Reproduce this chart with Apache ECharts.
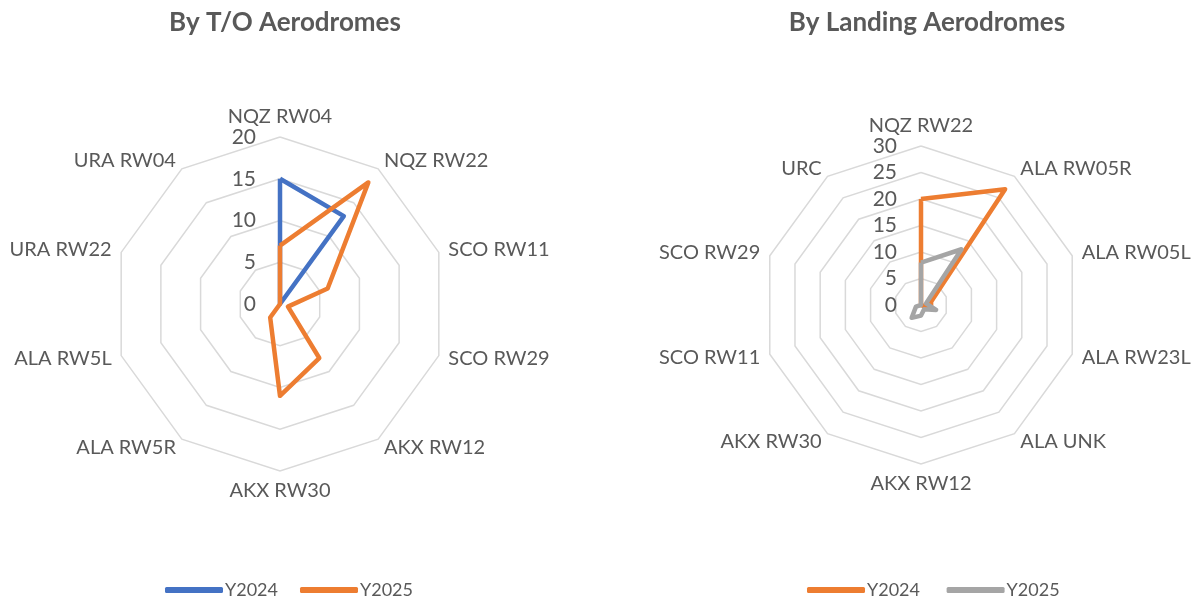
<!DOCTYPE html>
<html><head><meta charset="utf-8">
<script src="https://cdn.jsdelivr.net/npm/echarts@6/dist/echarts.min.js"></script>
<style>html,body{margin:0;padding:0;background:#fff}#c{width:1201px;height:597px}</style>
</head><body><div id="c"></div>
<script>
// Left chart: By T/O Aerodromes (clockwise order from top)
const toCategories = ['NQZ RW04','NQZ RW22','SCO RW11','SCO RW29','AKX RW12','AKX RW30','ALA RW5R','ALA RW5L','URA RW22','URA RW04'];
const toY2024 = [15, 13, 0, 0, 0, 0, 0, 0, 0, 0];
const toY2025 = [7, 18, 6, 1, 8, 11, 2, 0, 0, 0];
const toMax = 20;
// Right chart: By Landing Aerodromes (clockwise order from top)
const ldCategories = ['NQZ RW22','ALA RW05R','ALA RW05L','ALA RW23L','ALA UNK','AKX RW12','AKX RW30','SCO RW11','SCO RW29','URC'];
const ldY2024 = [20, 27, 2, 2, 0, 0, 0, 0, 0, 0];
const ldY2025 = [8, 13, 1, 3, 1, 2, 3, 1, 0, 0];
const ldMax = 30;
const seriesNames = ['Y2024', 'Y2025'];

const FONT = 'Lato';
const TXT = '#595959';
const BLUE = '#4472C4', ORANGE = '#ED7D31', GRAY = '#A5A5A5';

// ECharts radar runs counter-clockwise; reorder so the chart reads clockwise
function cw(arr) { return [arr[0]].concat(arr.slice(1).reverse()); }

function indicators(cats, max) {
  return cw(cats).map((n, i) => {
    const o = { name: n, min: 0, max: max };
    if (i === 0) o.axisLabel = { show: true };
    return o;
  });
}
function radarCfg(center, radius, cats, max, split) {
  return {
    center: center, radius: radius, startAngle: 90, shape: 'polygon',
    splitNumber: split,
    indicator: indicators(cats, max),
    axisName: { color: TXT, fontSize: 20, fontFamily: FONT },
    nameGap: 10,
    axisLine: { show: false },
    axisTick: { show: false },
    axisLabel: { show: false, color: TXT, fontSize: 21, fontFamily: FONT, margin: 24 },
    splitLine: { lineStyle: { color: '#D9D9D9', width: 1.5 } },
    splitArea: { show: false }
  };
}
function item(name, vals, color) {
  return { name: name, value: cw(vals), symbol: 'none',
    lineStyle: { color: color, width: 4.5, join: 'round' },
    itemStyle: { color: color } };
}
const legendBase = { itemWidth: 58, itemHeight: 6, icon: 'roundRect', itemGap: 22, top: 576,
  textStyle: { color: TXT, fontSize: 18, fontFamily: FONT, padding: [0, 0, 0, -3] } };
const chart = echarts.init(document.getElementById('c'));
chart.setOption({
  animation: false,
  textStyle: { fontFamily: FONT },
  title: [
    { text: 'By T/O Aerodromes', left: 280, top: 5, textAlign: 'center',
      textStyle: { fontSize: 26, fontWeight: 'bold', color: TXT, fontFamily: FONT } },
    { text: 'By Landing Aerodromes', left: 922, top: 5, textAlign: 'center',
      textStyle: { fontSize: 26, fontWeight: 'bold', color: TXT, fontFamily: FONT } }
  ],
  legend: [
    Object.assign({}, legendBase, { data: seriesNames, left: 160 }),
    Object.assign({}, legendBase, { data: seriesNames.map(s => s + ' '), left: 802 })
  ],
  radar: [
    radarCfg([280, 304], 167, toCategories, toMax, 4),
    radarCfg([921, 305], 159, ldCategories, ldMax, 6)
  ],
  series: [
    { type: 'radar', radarIndex: 0, data: [item(seriesNames[0], toY2024, BLUE), item(seriesNames[1], toY2025, ORANGE)] },
    { type: 'radar', radarIndex: 1, data: [item(seriesNames[0] + ' ', ldY2024, ORANGE), item(seriesNames[1] + ' ', ldY2025, GRAY)] }
  ]
});
</script></body></html>
